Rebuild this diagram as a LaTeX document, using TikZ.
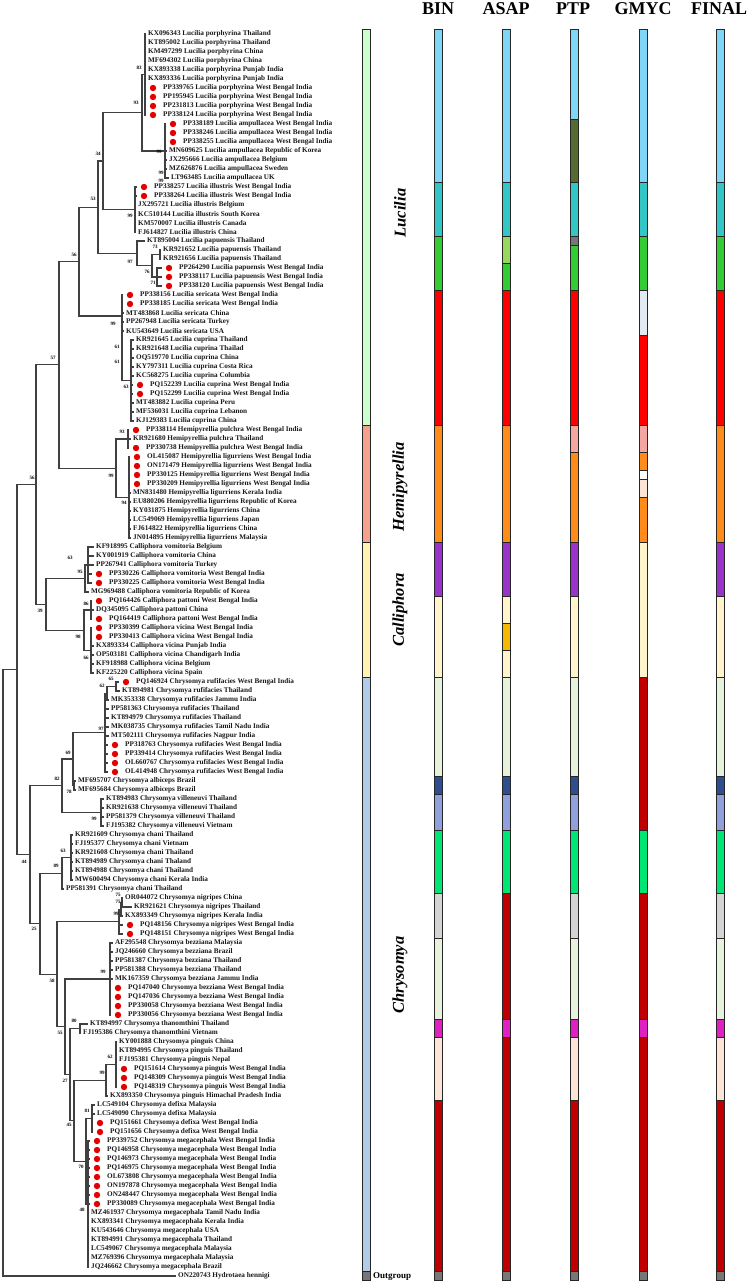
\documentclass[tikz,border=0pt]{standalone}
\usepackage{fontspec}
\setmainfont{Liberation Serif}
\usetikzlibrary{calc}
\definecolor{clb}{HTML}{80D6F6}
\definecolor{cte}{HTML}{33C6C6}
\definecolor{cgr}{HTML}{33CC33}
\definecolor{clg}{HTML}{99D65C}
\definecolor{cre}{HTML}{FF0000}
\definecolor{col}{HTML}{556B2F}
\definecolor{cgy}{HTML}{777777}
\definecolor{cpa}{HTML}{E2EBF3}
\definecolor{cor}{HTML}{FF8C1A}
\definecolor{cpk}{HTML}{F4A6A0}
\definecolor{cpu}{HTML}{9933CC}
\definecolor{ccr}{HTML}{FFF4CC}
\definecolor{cpg}{HTML}{E6F2DC}
\definecolor{cnv}{HTML}{2E4F8F}
\definecolor{cpw}{HTML}{8FA0DC}
\definecolor{cbg}{HTML}{00E673}
\definecolor{clgy}{HTML}{D4D4D4}
\definecolor{cmg}{HTML}{E020C0}
\definecolor{cpe}{HTML}{FCE4D6}
\definecolor{cdr}{HTML}{C00000}
\definecolor{cgo}{HTML}{F4B800}
\definecolor{gLu}{HTML}{CCFFCC}
\definecolor{gHe}{HTML}{F4A28C}
\definecolor{gCa}{HTML}{FFF2B3}
\definecolor{gCh}{HTML}{B0CCE8}
\definecolor{gOu}{HTML}{777777}
\newcommand\tp[3]{\coordinate (t#1) at (#2,{34+9*(#1-1)}); \node[lab] (l#1) at ($(t#1)+(2,0)$) {#3};}
\newcommand\tq[3]{\coordinate (t#1) at (#2,{34+9*(#1-1)}); \fill[dotc] ($(t#1)+(7,0)$) circle (3.2pt); \node[lab] (l#1) at ($(t#1)+(17,0)$) {#3};}
\newcommand\nd[3]{\coordinate (#1) at (#2,#3);}
\newcommand\ed[2]{\foreach \ch in {#2}{\draw[br] (#1) |- (\ch);}}
\newcommand\seg[4]{\filldraw[fill=#4, draw=black!85, line width=0.6pt] (#1,{29.5+9*(#2-1)}) rectangle ({#1+8},{29.5+9*#3});}
\begin{document}
\begin{tikzpicture}[x=1pt,y=-1pt,
 br/.style={line width=1.1pt, draw=black!75},
 lab/.style={anchor=west, inner sep=0pt, text=black!90, font=\fontsize{7.2}{8}\selectfont\bfseries},
 bs/.style={inner sep=0pt, font=\fontsize{5}{6}\selectfont\bfseries},
 hdr/.style={inner sep=0pt, font=\fontsize{18}{20}\selectfont\bfseries},
 gen/.style={inner sep=0pt, rotate=90, font=\fontsize{16.5}{18}\selectfont\bfseries\itshape},
 dotc/.style={fill=red!90!black}]
\useasboundingbox (0,0) rectangle (750,1284);
% ---------- tips ----------
\tp{1}{146}{KX096343 Lucilia porphyrina Thailand}
\tp{2}{146}{KT895002 Lucilia porphyrina Thailand}
\tp{3}{146}{KM497299 Lucilia porphyrina China}
\tp{4}{146}{MF694302 Lucilia porphyrina China}
\tp{5}{146}{KX893338 Lucilia porphyrina Punjab India}
\tp{6}{146}{KX893336 Lucilia porphyrina Punjab India}
\tq{7}{146}{PP339765 Lucilia porphyrina West Bengal India}
\tq{8}{146}{PP195945 Lucilia porphyrina West Bengal India}
\tq{9}{146}{PP231813 Lucilia porphyrina West Bengal India}
\tq{10}{146}{PP338124 Lucilia porphyrina West Bengal India}
\tq{11}{166}{PP338189 Lucilia ampullacea West Bengal India}
\tq{12}{166}{PP338246 Lucilia ampullacea West Bengal India}
\tq{13}{166}{PP338255 Lucilia ampullacea West Bengal India}
\tp{14}{167}{MN609625 Lucilia ampullacea Republic of Korea}
\tp{15}{167}{JX295666 Lucilia ampullacea Belgium}
\tp{16}{167}{MZ626876 Lucilia ampullacea Sweden}
\tp{17}{169}{LT963485 Lucilia ampullacea UK}
\tq{18}{137}{PP338257 Lucilia illustris West Bengal India}
\tq{19}{137}{PP338264 Lucilia illustris West Bengal India}
\tp{20}{136}{JX295721 Lucilia illustris Belgium}
\tp{21}{136}{KC510144 Lucilia illustris South Korea}
\tp{22}{136}{KM570007 Lucilia illustris Canada}
\tp{23}{136}{FJ614827 Lucilia illustris China}
\tp{24}{145}{KT895004 Lucilia papuensis Thailand}
\tp{25}{161}{KR921652 Lucilia papuensis Thailand}
\tp{26}{161}{KR921656 Lucilia papuensis Thailand}
\tq{27}{162}{PP264290 Lucilia papuensis West Bengal India}
\tq{28}{162}{PP338117 Lucilia papuensis West Bengal India}
\tq{29}{162}{PP338120 Lucilia papuensis West Bengal India}
\tq{30}{123}{PP338156 Lucilia sericata West Bengal India}
\tq{31}{123}{PP338185 Lucilia sericata West Bengal India}
\tp{32}{124}{MT483868 Lucilia sericata China}
\tp{33}{124}{PP267948 Lucilia sericata Turkey}
\tp{34}{124}{KU543649 Lucilia sericata USA}
\tp{35}{134}{KR921645 Lucilia cuprina Thailand}
\tp{36}{134}{KR921648 Lucilia cuprina Thailad}
\tp{37}{134}{OQ519770 Lucilia cuprina China}
\tp{38}{134}{KY797311 Lucilia cuprina Costa Rica}
\tp{39}{134}{KC568275 Lucilia cuprina Columbia}
\tq{40}{133}{PQ152239 Lucilia cuprina West Bengal India}
\tq{41}{133}{PQ152299 Lucilia cuprina West Bengal India}
\tp{42}{134}{MT483882 Lucilia cuprina Peru}
\tp{43}{134}{MF536031 Lucilia cuprina Lebanon}
\tp{44}{134}{KJ129383 Lucilia cuprina China}
\tq{45}{129}{PP338114 Hemipyrellia pulchra West Bengal India}
\tp{46}{131}{KR921680 Hemipyrellia pulchra Thailand}
\tq{47}{129}{PP330738 Hemipyrellia pulchra West Bengal India}
\tq{48}{130}{OL415087 Hemipyrellia ligurriens West Bengal India}
\tq{49}{130}{ON171479 Hemipyrellia ligurriens West Bengal India}
\tq{50}{130}{PP330125 Hemipyrellia ligurriens West Bengal India}
\tq{51}{130}{PP330209 Hemipyrellia ligurriens West Bengal India}
\tp{52}{131}{MN831480 Hemipyrellia ligurriens Kerala India}
\tp{53}{131}{EU880206 Hemipyrellia ligurriens Republic of Korea}
\tp{54}{131}{KY031875 Hemipyrellia ligurriens China}
\tp{55}{131}{LC549069 Hemipyrellia ligurriens Japan}
\tp{56}{131}{FJ614822 Hemipyrellia ligurriens China}
\tp{57}{131}{JN014895 Hemipyrellia ligurriens Malaysia}
\tp{58}{94}{KF918995 Calliphora vomitoria Belgium}
\tp{59}{94}{KY001919 Calliphora vomitoria China}
\tp{60}{94}{PP267941 Calliphora vomitoria Turkey}
\tq{61}{92}{PP330226 Calliphora vomitoria West Bengal India}
\tq{62}{92}{PP330225 Calliphora vomitoria West Bengal India}
\tp{63}{89}{MG969488 Calliphora vomitoria Republic of Korea}
\tq{64}{92}{PQ164426 Calliphora pattoni West Bengal India}
\tp{65}{94}{DQ345095 Calliphora pattoni China}
\tq{66}{92}{PQ164419 Calliphora pattoni West Bengal India}
\tq{67}{92}{PP330399 Calliphora vicina West Bengal India}
\tq{68}{92}{PP330413 Calliphora vicina West Bengal India}
\tp{69}{94}{KX893334 Calliphora vicina Punjab India}
\tp{70}{94}{OP503181 Calliphora vicina Chandigarh India}
\tp{71}{94}{KF918988 Calliphora vicina Belgium}
\tp{72}{94}{KF225220 Calliphora vicina Spain}
\tq{73}{119}{PQ146924 Chrysomya rufifacies West Bengal India}
\tp{74}{120}{KT894981 Chrysomya rufifacies Thailand}
\tp{75}{109}{MK353338 Chrysomya rufifacies Jammu India}
\tp{76}{109}{PP581363 Chrysomya rufifacies Thailand}
\tp{77}{109}{KT894979 Chrysomya rufifacies Thailand}
\tp{78}{109}{MK038735 Chrysomya rufifacies Tamil Nadu India}
\tp{79}{109}{MT502111 Chrysomya rufifacies Nagpur India}
\tq{80}{108}{PP318763 Chrysomya rufifacies West Bengal India}
\tq{81}{108}{PP339414 Chrysomya rufifacies West Bengal India}
\tq{82}{108}{OL660767 Chrysomya rufifacies West Bengal India}
\tq{83}{108}{OL414948 Chrysomya rufifacies West Bengal India}
\tp{84}{76}{MF695707 Chrysomya albiceps Brazil}
\tp{85}{76}{MF695684 Chrysomya albiceps Brazil}
\tp{86}{104}{KT894983 Chrysomya villeneuvi Thailand}
\tp{87}{104}{KR921638 Chrysomya villeneuvi Thailand}
\tp{88}{104}{PP581379 Chrysomya villeneuvi Thailand}
\tp{89}{104}{FJ195382 Chrysomya villeneuvi Vietnam}
\tp{90}{73}{KR921609 Chrysomya chani Thailand}
\tp{91}{73}{FJ195377 Chrysomya chani Vietnam}
\tp{92}{73}{KR921608 Chrysomya chani Thailand}
\tp{93}{73}{KT894989 Chrysomya chani Thaland}
\tp{94}{73}{KT894988 Chrysomya chani Thailand}
\tp{95}{73}{MW600494 Chrysomya chani Kerala India}
\tp{96}{64}{PP581391 Chrysomya chani Thailand}
\tp{97}{123}{OR044072 Chrysomya nigripes China}
\tp{98}{132}{KR921621 Chrysomya nigripes Thailand}
\tp{99}{123}{KX893349 Chrysomya nigripes Kerala India}
\tq{100}{123}{PQ148156 Chrysomya nigripes West Bengal India}
\tq{101}{123}{PQ148151 Chrysomya nigripes West Bengal India}
\tp{102}{113}{AF295548 Chrysomya bezziana Malaysia}
\tp{103}{113}{JQ246660 Chrysomya bezziana Brazil}
\tp{104}{113}{PP581387 Chrysomya bezziana Thailand}
\tp{105}{113}{PP581388 Chrysomya bezziana Thailand}
\tp{106}{113}{MK167359 Chrysomya bezziana Jammu India}
\tq{107}{111}{PQ147040 Chrysomya bezziana West Bengal India}
\tq{108}{111}{PQ147036 Chrysomya bezziana West Bengal India}
\tq{109}{111}{PP330058 Chrysomya bezziana West Bengal India}
\tq{110}{111}{PP330056 Chrysomya bezziana West Bengal India}
\tp{111}{88}{KT894997 Chrysomya thanomthini Thailand}
\tp{112}{81}{FJ195386 Chrysomya thanomthini Vietnam}
\tp{113}{117}{KY001888 Chrysomya pinguis China}
\tp{114}{117}{KT894995 Chrysomya pinguis Thailand}
\tp{115}{117}{FJ195381 Chrysomya pinguis Nepal}
\tq{116}{117}{PQ151614 Chrysomya pinguis West Bengal India}
\tq{117}{117}{PQ148309 Chrysomya pinguis West Bengal India}
\tq{118}{117}{PQ148319 Chrysomya pinguis West Bengal India}
\tp{119}{108}{KX893350 Chrysomya pinguis Himachal Pradesh India}
\tp{120}{95}{LC549104 Chrysomya defixa Malaysia}
\tp{121}{95}{LC549090 Chrysomya defixa Malaysia}
\tq{122}{93}{PQ151661 Chrysomya defixa West Bengal India}
\tq{123}{93}{PQ151656 Chrysomya defixa West Bengal India}
\tq{124}{90}{PP339752 Chrysomya megacephala West Bengal India}
\tq{125}{90}{PQ146958 Chrysomya megacephala West Bengal India}
\tq{126}{90}{PQ146973 Chrysomya megacephala West Bengal India}
\tq{127}{90}{PQ146975 Chrysomya megacephala West Bengal India}
\tq{128}{90}{OL673808 Chrysomya megacephala West Bengal India}
\tq{129}{90}{ON197878 Chrysomya megacephala West Bengal India}
\tq{130}{90}{ON248447 Chrysomya megacephala West Bengal India}
\tq{131}{90}{PP330089 Chrysomya megacephala West Bengal India}
\tp{132}{89}{MZ461937 Chrysomya megacephala Tamil Nadu India}
\tp{133}{89}{KX893341 Chrysomya megacephala Kerala India}
\tp{134}{89}{KU543646 Chrysomya megacephala USA}
\tp{135}{89}{KT894991 Chrysomya megacephala Thailand}
\tp{136}{89}{LC549067 Chrysomya megacephala Malaysia}
\tp{137}{89}{MZ769396 Chrysomya megacephala Malaysia}
\tp{138}{89}{JQ246662 Chrysomya megacephala Brazil}
\tp{139}{176}{ON220743 Hydrotaea hennigi}
% ---------- internal nodes ----------
\nd{n83}{145}{74.5}
\nd{namp}{165}{151}
\nd{n93}{142}{112.75}
\nd{nill}{135}{209.5}
\nd{n34}{103}{161}
\nd{n73}{160}{254.5}
\nd{n76}{157}{277}
\nd{n97}{152}{265.75}
\nd{npap}{137}{253.4}
\nd{n53}{98}{207.3}
\nd{ncup}{131}{380.5}
\nd{n99}{122}{316}
\nd{n56}{79}{261.6}
\nd{npul}{128}{439}
\nd{nlig}{129}{497.5}
\nd{nhemi}{116}{468.25}
\nd{n57}{59}{364.9}
\nd{n63v}{88}{565}
\nd{nvom}{85}{578.5}
\nd{npat}{91}{610}
\nd{nvic}{91}{650.5}
\nd{n98}{84}{630.25}
\nd{ncal}{46}{604.4}
\nd{n36}{36}{484.6}
\nd{n65}{116}{686.5}
\nd{n62}{107}{693.25}
\nd{nruf}{105}{732.6}
\nd{nalb}{74}{785.5}
\nd{n69}{73}{759}
\nd{nvil}{101}{812.5}
\nd{n82}{62}{785.8}
\nd{n63c}{71}{857.5}
\nd{n89}{62}{873.25}
\nd{n75b}{122}{902.5}
\nd{n75a}{121}{909.25}
\nd{nnig}{119}{921.6}
\nd{nbez}{110}{979}
\nd{nthan}{80}{1028.5}
\nd{npin62}{116}{1064.5}
\nd{npin99}{106}{1080.25}
\nd{ndef}{92}{1118.5}
\nd{nmeg}{88}{1204}
\nd{n70}{86}{1161.25}
\nd{n45}{74}{1120.75}
\nd{n27}{70}{1074.6}
\nd{n55}{65}{1026.8}
\nd{n58}{57}{974.2}
\nd{n25}{40}{923.6}
\nd{nchry}{30}{854.7}
\nd{n17}{17}{669.6}
\nd{nroot}{3}{972}
% ---------- branches ----------
\ed{n83}{t1,t2,t3,t4,t5,t6,t7,t8,t9,t10}
\ed{namp}{t11,t12,t13,t14,t15,t16,t17}
\ed{n93}{n83,namp}
\ed{nill}{t18,t19,t20,t21,t22,t23}
\ed{n34}{n93,nill}
\ed{n73}{t25,t26}
\ed{n76}{t27,t28,t29}
\ed{n97}{n73,n76}
\ed{npap}{t24,n97}
\ed{n53}{n34,npap}
\ed{ncup}{t35,t36,t37,t38,t39,t40,t41,t42,t43,t44}
\ed{n99}{t30,t31,t32,t33,t34,ncup}
\ed{n56}{n53,n99}
\ed{npul}{t45,t46,t47}
\ed{nlig}{t48,t49,t50,t51,t52,t53,t54,t55,t56,t57}
\ed{nhemi}{npul,nlig}
\ed{n57}{n56,nhemi}
\ed{n63v}{t58,t59,t60,t61,t62}
\ed{nvom}{n63v,t63}
\ed{npat}{t64,t65,t66}
\ed{nvic}{t67,t68,t69,t70,t71,t72}
\ed{n98}{npat,nvic}
\ed{ncal}{nvom,n98}
\ed{n36}{n57,ncal}
\ed{n65}{t73,t74}
\ed{n62}{n65,t75}
\ed{nruf}{n62,t76,t77,t78,t79,t80,t81,t82,t83}
\ed{nalb}{t84,t85}
\ed{n69}{nruf,nalb}
\ed{nvil}{t86,t87,t88,t89}
\ed{n82}{n69,nvil}
\ed{n63c}{t90,t91,t92,t93,t94,t95}
\ed{n89}{n63c,t96}
\ed{n75b}{t97,t98}
\ed{n75a}{n75b,t99}
\ed{nnig}{n75a,t100,t101}
\ed{nbez}{t102,t103,t104,t105,t106,t107,t108,t109,t110}
\ed{nthan}{t111,t112}
\ed{npin62}{t113,t114,t115,t116,t117,t118}
\ed{npin99}{npin62,t119}
\ed{ndef}{t120,t121,t122,t123}
\ed{nmeg}{t124,t125,t126,t127,t128,t129,t130,t131,t132,t133,t134,t135,t136,t137,t138}
\ed{n70}{ndef,nmeg}
\ed{n45}{npin99,n70}
\ed{n27}{nthan,n45}
\ed{n55}{nbez,n27}
\ed{n58}{nnig,n55}
\ed{n25}{n89,n58}
\ed{nchry}{n82,n25}
\ed{n17}{n36,nchry}
\ed{nroot}{n17,t139}
% ---------- support values ----------
\node[bs] (b1) at (139,68) {83};
\node[bs] (b2) at (136,103) {93};
\node[bs] (b3) at (98,154) {34};
\node[bs] (b4) at (159,152) {99};
\node[bs] (b5) at (161,173) {99};
\node[bs] (b6) at (161,181) {99};
\node[bs] (b7) at (93,199) {53};
\node[bs] (b8) at (130,216) {99};
\node[bs] (b9) at (74,255) {56};
\node[bs] (b10) at (155,247) {73};
\node[bs] (b11) at (130,262) {97};
\node[bs] (b12) at (147,272) {76};
\node[bs] (b13) at (153,283) {71};
\node[bs] (b14) at (113,324) {99};
\node[bs] (b15) at (117,347) {61};
\node[bs] (b16) at (117,362) {61};
\node[bs] (b17) at (126,387) {63};
\node[bs] (b18) at (53,358) {57};
\node[bs] (b19) at (122,432) {93};
\node[bs] (b20) at (111,476) {99};
\node[bs] (b21) at (124,503) {94};
\node[bs] (b22) at (32,478) {56};
\node[bs] (b23) at (70,558) {63};
\node[bs] (b24) at (80,572) {95};
\node[bs] (b25) at (40,611) {39};
\node[bs] (b26) at (86,604) {86};
\node[bs] (b27) at (78,637) {98};
\node[bs] (b28) at (86,658) {66};
\node[bs] (b29) at (111,679) {65};
\node[bs] (b30) at (102,686) {62};
\node[bs] (b31) at (101,729) {97};
\node[bs] (b32) at (68,753) {69};
\node[bs] (b33) at (57,779) {82};
\node[bs] (b34) at (69,792) {78};
\node[bs] (b35) at (94,819) {99};
\node[bs] (b36) at (24,862) {44};
\node[bs] (b37) at (63,851) {63};
\node[bs] (b38) at (56,866) {89};
\node[bs] (b39) at (118,895) {75};
\node[bs] (b40) at (118,902) {75};
\node[bs] (b41) at (116,914) {99};
\node[bs] (b42) at (34,929) {25};
\node[bs] (b43) at (103,972) {99};
\node[bs] (b44) at (52,981) {58};
\node[bs] (b45) at (74,1021) {80};
\node[bs] (b46) at (60,1033) {55};
\node[bs] (b47) at (110,1057) {62};
\node[bs] (b48) at (102,1073) {99};
\node[bs] (b49) at (65,1081) {27};
\node[bs] (b50) at (87,1111) {81};
\node[bs] (b51) at (69,1125) {45};
\node[bs] (b52) at (81,1167) {70};
\node[bs] (b53) at (82,1210) {48};
% ---------- headers ----------
\node[hdr] (h1) at (438,9) {BIN};
\node[hdr] (h2) at (506,9) {ASAP};
\node[hdr] (h3) at (573,9) {PTP};
\node[hdr] (h4) at (643,9) {GMYC};
\node[hdr] (h5) at (719,9) {FINAL};
% ---------- genus bar ----------
\seg{362}{1}{44}{gLu}
\seg{362}{45}{57}{gHe}
\seg{362}{58}{72}{gCa}
\seg{362}{73}{138}{gCh}
\seg{362}{139}{139}{gOu}
\node[gen] (g1) at (400,213) {Lucilia};
\node[gen] (g2) at (400,487) {Hemipyrellia};
\node[gen] (g3) at (400,610) {Calliphora};
\node[gen] (g4) at (400,975) {Chrysomya};
\node[inner sep=0pt, anchor=west, font=\fontsize{9}{10}\selectfont\bfseries] (g5) at (373,1276) {Outgroup};
% ---------- BIN ----------
\seg{434}{1}{17}{clb}\seg{434}{18}{23}{cte}\seg{434}{24}{29}{cgr}\seg{434}{30}{44}{cre}
\seg{434}{45}{57}{cor}\seg{434}{58}{63}{cpu}\seg{434}{64}{72}{ccr}\seg{434}{73}{83}{cpg}
\seg{434}{84}{85}{cnv}\seg{434}{86}{89}{cpw}\seg{434}{90}{96}{cbg}\seg{434}{97}{101}{clgy}
\seg{434}{102}{110}{cpg}\seg{434}{111}{112}{cmg}\seg{434}{113}{119}{cpe}\seg{434}{120}{138}{cdr}\seg{434}{139}{139}{cgy}
% ---------- ASAP ----------
\seg{502}{1}{17}{clb}\seg{502}{18}{23}{cte}\seg{502}{24}{26}{clg}\seg{502}{27}{29}{cgr}\seg{502}{30}{44}{cre}
\seg{502}{45}{57}{cor}\seg{502}{58}{63}{cpu}\seg{502}{64}{66}{ccr}\seg{502}{67}{69}{cgo}\seg{502}{70}{72}{ccr}
\seg{502}{73}{83}{cpg}\seg{502}{84}{85}{cnv}\seg{502}{86}{89}{cpw}\seg{502}{90}{96}{cbg}\seg{502}{97}{110}{cdr}
\seg{502}{111}{112}{cmg}\seg{502}{113}{138}{cdr}\seg{502}{139}{139}{cgy}
% ---------- PTP ----------
\seg{570}{1}{10}{clb}\seg{570}{11}{17}{col}\seg{570}{18}{23}{cte}\seg{570}{24}{24}{cgy}\seg{570}{25}{29}{cgr}\seg{570}{30}{44}{cre}
\seg{570}{45}{47}{cpk}\seg{570}{48}{57}{cor}\seg{570}{58}{63}{cpu}\seg{570}{64}{72}{ccr}\seg{570}{73}{83}{cpg}
\seg{570}{84}{85}{cnv}\seg{570}{86}{89}{cpw}\seg{570}{90}{96}{cbg}\seg{570}{97}{101}{clgy}
\seg{570}{102}{110}{cpg}\seg{570}{111}{112}{cmg}\seg{570}{113}{119}{cpe}\seg{570}{120}{138}{cdr}\seg{570}{139}{139}{cgy}
% ---------- GMYC ----------
\seg{639}{1}{17}{clb}\seg{639}{18}{23}{cte}\seg{639}{24}{29}{cgr}\seg{639}{30}{34}{cpa}\seg{639}{35}{44}{cre}
\seg{639}{45}{47}{cpk}\seg{639}{48}{49}{cor}\seg{639}{50}{50}{white}\seg{639}{51}{52}{cpe}\seg{639}{53}{57}{cor}
\seg{639}{58}{72}{ccr}\seg{639}{73}{89}{cdr}\seg{639}{90}{96}{cbg}\seg{639}{97}{110}{cdr}\seg{639}{111}{112}{cmg}
\seg{639}{113}{138}{cdr}\seg{639}{139}{139}{cgy}
% ---------- FINAL ----------
\seg{716}{1}{17}{clb}\seg{716}{18}{23}{cte}\seg{716}{24}{29}{cgr}\seg{716}{30}{44}{cre}
\seg{716}{45}{57}{cor}\seg{716}{58}{63}{cpu}\seg{716}{64}{72}{ccr}\seg{716}{73}{83}{cpg}
\seg{716}{84}{85}{cnv}\seg{716}{86}{89}{cpw}\seg{716}{90}{96}{cbg}\seg{716}{97}{101}{clgy}
\seg{716}{102}{110}{cpg}\seg{716}{111}{112}{cmg}\seg{716}{113}{119}{cpe}\seg{716}{120}{138}{cdr}\seg{716}{139}{139}{cgy}
\end{tikzpicture}
\end{document}
